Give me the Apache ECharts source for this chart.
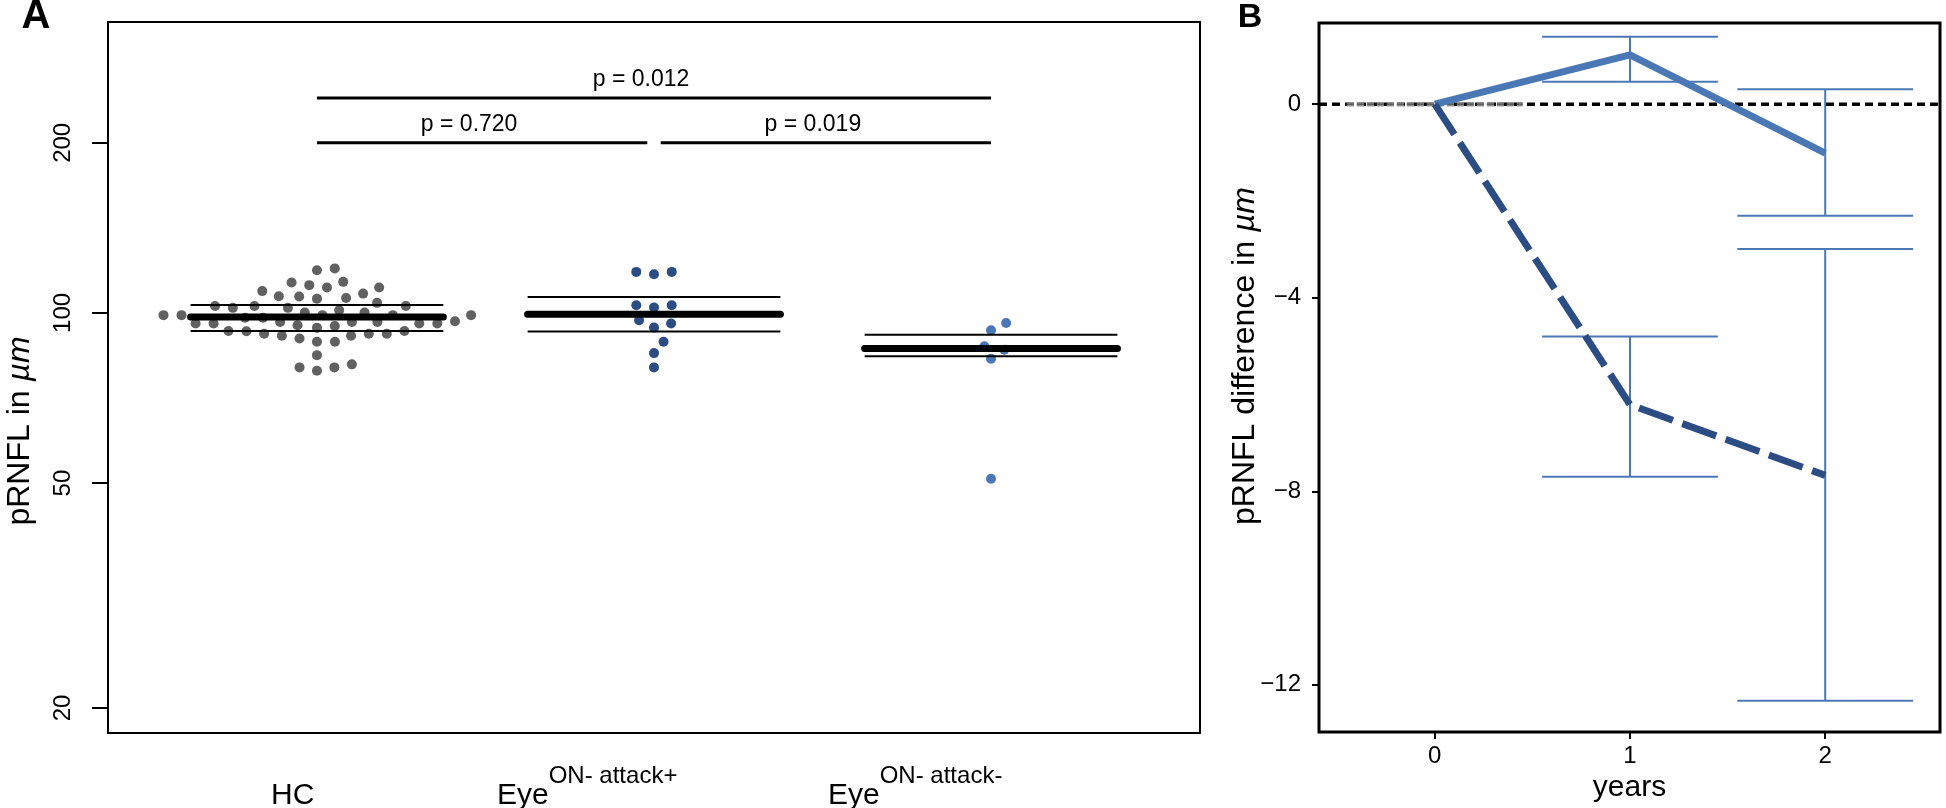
<!DOCTYPE html>
<html>
<head>
<meta charset="utf-8">
<script src="https://cdn.jsdelivr.net/npm/echarts@6/dist/echarts.min.js"></script>
<style>
html,body{margin:0;padding:0;background:#fff;}
#chart{width:1946px;height:808px;}
</style>
</head>
<body>
<div id="chart"></div>
<script>
// ---------- Panel A data ----------
const groupLabels = ['HC', 'Eye', 'Eye'];
const groupSuperscripts = ['', 'ON- attack+', 'ON- attack-'];
const hcValues = [
  119.0, 119.9,
  113.5, 112.0, 110.9, 110.9, 113.2,
  108.2, 106.9, 106.3, 106.0, 107.0, 109.3,
  102.9, 102.1, 101.1, 102.9, 102.1, 102.9, 104.2,
  99.1, 99.1, 99.1, 98.1, 100.2, 98.1, 100.2, 99.1, 99.1,
  96.4, 96.4, 95.8, 94.8, 95.1, 95.8, 95.8, 96.4, 95.8, 96.7,
  94.1, 92.9, 91.9, 91.1, 90.1, 92.8, 91.1, 91.9, 91.9, 92.9,
  88.9, 88.9, 84.2, 80.1, 79.0, 80.1, 81.1
];
const attackPlusValues = [117.1, 118.2, 118.2, 102.2, 103.2, 103.2, 97.1, 95.8, 94.2, 88.9, 84.9, 80.1];
const attackMinusValues = [96.0, 93.2, 87.3, 86.1, 83.0, 50.9];
const groupMean = [98.4, 99.5, 86.5];
const groupLower = [92.9, 92.7, 83.8];
const groupUpper = [103.3, 106.7, 91.5];
const yTicksA = [20, 50, 100, 200];
const compFrom = [1, 1, 2.02];
const compTo = [3, 1.98, 3];
const compLevel = [240, 200, 200];
const compLabels = ['p = 0.012', 'p = 0.720', 'p = 0.019'];

// ---------- Panel B data ----------
const years = [0, 1, 2];
const diffAttackMinus = [0, 1.02, -1.01];
const ciLowAttackMinus = [0, 0.466, -2.305];
const ciHighAttackMinus = [0, 1.395, 0.31];
const diffAttackPlus = [0, -6.21, -7.67];
const ciLowAttackPlus = [0, -7.70, -12.33];
const ciHighAttackPlus = [0, -4.80, -2.99];
const zeroReference = [0];
const yTicksB = [-12, -8, -4, 0];
const xTicksB = [0, 1, 2];

// ---------- styles ----------
const F = '"Liberation Sans", Arial, Helvetica, sans-serif';
const colHC = '#616161';
const colDark = '#2b4d84';
const colLight = '#4a78b5';

// beeswarm ("swarm" method, ascending priority) in axis units
function swarmOffsets(values, dsize, gsize) {
  const pts = values.map((v, i) => ({ x: Math.log10(v) / dsize, y: 0, i }));
  const order = pts.slice().sort((a, b) => a.x - b.x);
  const placed = [];
  for (const p of order) {
    const near = placed.filter(q => p.x - q.x < 1);
    if (near.length) {
      near.sort((a, b) => Math.abs(a.y) - Math.abs(b.y));
      const cands = [0];
      near.forEach(q => cands.push(q.y + Math.sqrt(1 - (p.x - q.x) ** 2)));
      near.forEach(q => cands.push(q.y - Math.sqrt(1 - (p.x - q.x) ** 2)));
      let best = 0, bestAbs = Infinity;
      for (const c of cands) {
        const bad = near.some(q => (p.x - q.x) ** 2 + (c - q.y) ** 2 < 0.999);
        if (!bad && Math.abs(c) < bestAbs) { best = c; bestAbs = Math.abs(c); }
      }
      p.y = best;
    }
    placed.push(p);
  }
  return pts.map(p => p.y * gsize);
}
const DSIZE = 0.0236, GSIZE = 0.0534;
function swarmData(values, pos) {
  const off = swarmOffsets(values, DSIZE, GSIZE);
  return values.map((v, i) => [pos + off[i], v]);
}

const chart = echarts.init(document.getElementById('chart'), null, { renderer: 'canvas' });

function errorBars(low, high) {
  return {
    type: 'custom', xAxisIndex: 1, yAxisIndex: 1, z: 3, silent: true,
    data: years.map((x, i) => [x, low[i], high[i]]),
    encode: { x: 0, y: [1, 2] },
    renderItem(params, api) {
      const x = api.value(0), lo = api.value(1), hi = api.value(2);
      const cap = 0.45;
      if (Math.abs(lo - hi) < 1e-9) {
        const a = api.coord([x - cap, lo]), b = api.coord([x + cap, lo]);
        return { type: 'group', children: [
          { type: 'line', z2: 5, shape: { x1: a[0], y1: a[1], x2: b[0], y2: b[1] },
            style: { stroke: '#8c8c8c', lineWidth: 4, lineDash: [7, 3] } },
          { type: 'line', z2: 6, shape: { x1: a[0], y1: a[1], x2: b[0], y2: b[1] },
            style: { stroke: '#5a5a5a', lineWidth: 1, lineDash: [7, 3] } }
        ] };
      }
      const seg = (x1, y1, x2, y2) => {
        const a = api.coord([x1, y1]), b = api.coord([x2, y2]);
        return { type: 'line', shape: { x1: a[0], y1: a[1], x2: b[0], y2: b[1] },
          style: { stroke: colLight, lineWidth: 2 } };
      };
      return { type: 'group', children: [
        seg(x, lo, x, hi), seg(x - cap, lo, x + cap, lo), seg(x - cap, hi, x + cap, hi)
      ] };
    }
  };
}

function labelText(i) {
  if (!groupSuperscripts[i]) return '{b|' + groupLabels[i] + '}';
  return '{b|' + groupLabels[i] + '}{s|' + groupSuperscripts[i] + '}';
}
const labelLeft = [271, 497, 828];

const option = {
  animation: false,
  backgroundColor: '#fff',
  grid: [
    { left: 108, top: 22, width: 1092, height: 711, show: true, borderColor: '#000', borderWidth: 2, backgroundColor: 'transparent' },
    { left: 1319, top: 23, width: 621, height: 710, show: true, borderColor: '#000', borderWidth: 3, backgroundColor: 'transparent' }
  ],
  xAxis: [
    { gridIndex: 0, type: 'value', min: 0.38, max: 3.62, show: false },
    { gridIndex: 1, type: 'value', min: -0.593, max: 2.588, position: 'bottom',
      axisLine: { show: false, onZero: false }, splitLine: { show: false },
      axisTick: { show: true, length: 7, customValues: xTicksB, lineStyle: { color: '#000', width: 2 } },
      axisLabel: { customValues: xTicksB, fontSize: 24, fontFamily: F, color: '#000', margin: 12 },
      name: 'years', nameLocation: 'middle', nameGap: 32,
      nameTextStyle: { fontSize: 30, fontFamily: F, color: '#000' } }
  ],
  yAxis: [
    { gridIndex: 0, type: 'log', logBase: 10, min: 18.06, max: 327.2,
      axisLine: { show: false }, splitLine: { show: false }, minorTick: { show: false },
      axisTick: { show: true, length: 16, customValues: yTicksA, lineStyle: { color: '#000', width: 2 } },
      axisLabel: { customValues: yTicksA, rotate: 90, fontSize: 24, fontFamily: F, color: '#000', margin: 33 } },
    { gridIndex: 1, type: 'value', min: -12.976, max: 1.678, position: 'left',
      axisLine: { show: false, onZero: false }, splitLine: { show: false },
      axisTick: { show: true, length: 7, customValues: yTicksB, lineStyle: { color: '#000', width: 2 } },
      axisLabel: { customValues: yTicksB, fontSize: 24, fontFamily: F, color: '#000', margin: 18,
        formatter: v => (v < 0 ? '\u2212' + Math.abs(v) : String(v)) } }
  ],
  series: [
    { type: 'scatter', xAxisIndex: 0, yAxisIndex: 0, symbolSize: 10, z: 2,
      itemStyle: { color: colHC, opacity: 1 }, data: swarmData(hcValues, 1) },
    { type: 'scatter', xAxisIndex: 0, yAxisIndex: 0, symbolSize: 10, z: 2,
      itemStyle: { color: colDark, opacity: 1 }, data: swarmData(attackPlusValues, 2) },
    { type: 'scatter', xAxisIndex: 0, yAxisIndex: 0, symbolSize: 10, z: 2,
      itemStyle: { color: colLight, opacity: 1 }, data: swarmData(attackMinusValues, 3) },
    { type: 'custom', xAxisIndex: 0, yAxisIndex: 0, z: 4, silent: true,
      data: groupMean.map((m, i) => [i + 1, m, groupLower[i], groupUpper[i]]),
      encode: { x: 0, y: [1, 2, 3] },
      renderItem(params, api) {
        const x = api.value(0), hw = 0.375;
        const mk = (v, w, cap) => {
          const a = api.coord([x - hw, v]), b = api.coord([x + hw, v]);
          return { type: 'line', shape: { x1: a[0], y1: a[1], x2: b[0], y2: b[1] },
            style: { stroke: '#000', lineWidth: w, lineCap: cap } };
        };
        return { type: 'group', children: [mk(api.value(2), 2, 'butt'), mk(api.value(3), 2, 'butt'), mk(api.value(1), 7, 'round')] };
      } },
    { type: 'custom', xAxisIndex: 0, yAxisIndex: 0, z: 4, silent: true,
      data: compFrom.map((f, i) => [f, compTo[i], compLevel[i]]),
      encode: { x: [0, 1], y: 2 },
      renderItem(params, api) {
        const a = api.coord([api.value(0), api.value(2)]);
        const b = api.coord([api.value(1), api.value(2)]);
        return { type: 'group', children: [
          { type: 'line', shape: { x1: a[0], y1: a[1], x2: b[0], y2: b[1] }, style: { stroke: '#000', lineWidth: 3 } },
          { type: 'text', x: (a[0] + b[0]) / 2 - 13, y: a[1] - 7,
            style: { text: compLabels[params.dataIndex], fontSize: 23, fontFamily: F, fill: '#000', align: 'center', verticalAlign: 'bottom' } }
        ] };
      } },
    // Panel B: dashed zero reference line across the plot
    { type: 'custom', xAxisIndex: 1, yAxisIndex: 1, z: 1, silent: true,
      data: zeroReference.map(v => [0, v]),
      encode: { x: 0, y: 1 },
      renderItem(params, api) {
        const cs = params.coordSys;
        const y = api.coord([0, api.value(1)])[1];
        return { type: 'line', shape: { x1: cs.x, y1: y, x2: cs.x + cs.width, y2: y },
          style: { stroke: '#000', lineWidth: 3.5, lineDash: [8, 5] } };
      } },
    errorBars(ciLowAttackMinus, ciHighAttackMinus),
    errorBars(ciLowAttackPlus, ciHighAttackPlus),
    { type: 'line', name: 'Eye ON- attack-', xAxisIndex: 1, yAxisIndex: 1, z: 5, symbol: 'none', silent: true,
      data: years.map((x, i) => [x, diffAttackMinus[i]]),
      lineStyle: { color: colLight, width: 7, join: 'round' } },
    { type: 'line', name: 'Eye ON- attack+', xAxisIndex: 1, yAxisIndex: 1, z: 5, symbol: 'none', silent: true,
      data: years.map((x, i) => [x, diffAttackPlus[i]]),
      lineStyle: { color: colDark, width: 7, type: [36, 10], join: 'round' } }
  ],
  graphic: [
    { type: 'text', x: 36, y: 17, style: { text: 'A', font: 'bold 40px ' + F, fill: '#000', align: 'center', verticalAlign: 'middle' } },
    { type: 'text', x: 1250, y: 17.5, style: { text: 'B', font: 'bold 34px ' + F, fill: '#000', align: 'center', verticalAlign: 'middle' } },
    { type: 'text', x: 20, y: 431, rotation: Math.PI / 2,
      style: { text: '{n|pRNFL in }{i|\u00b5m}', align: 'center', verticalAlign: 'middle',
        rich: { n: { fontSize: 32, fontFamily: F, fill: '#000' }, i: { fontSize: 32, fontFamily: F, fontStyle: 'italic', fill: '#000' } } } },
    { type: 'text', x: 1245, y: 356, rotation: Math.PI / 2,
      style: { text: '{n|pRNFL difference in }{i|\u00b5m}', align: 'center', verticalAlign: 'middle',
        rich: { n: { fontSize: 32, fontFamily: F, fill: '#000' }, i: { fontSize: 32, fontFamily: F, fontStyle: 'italic', fill: '#000' } } } }
  ].concat(groupLabels.map((g, i) => ({
    type: 'text', x: labelLeft[i], y: 787.5,
    style: { text: labelText(i), align: 'left', verticalAlign: 'middle',
      rich: { b: { fontSize: 30, lineHeight: 46, verticalAlign: 'bottom', fontFamily: F, fill: '#000' },
              s: { fontSize: 24, lineHeight: 24, verticalAlign: 'top', fontFamily: F, fill: '#000' } } }
  })))
};
chart.setOption(option);
</script>
</body>
</html>
